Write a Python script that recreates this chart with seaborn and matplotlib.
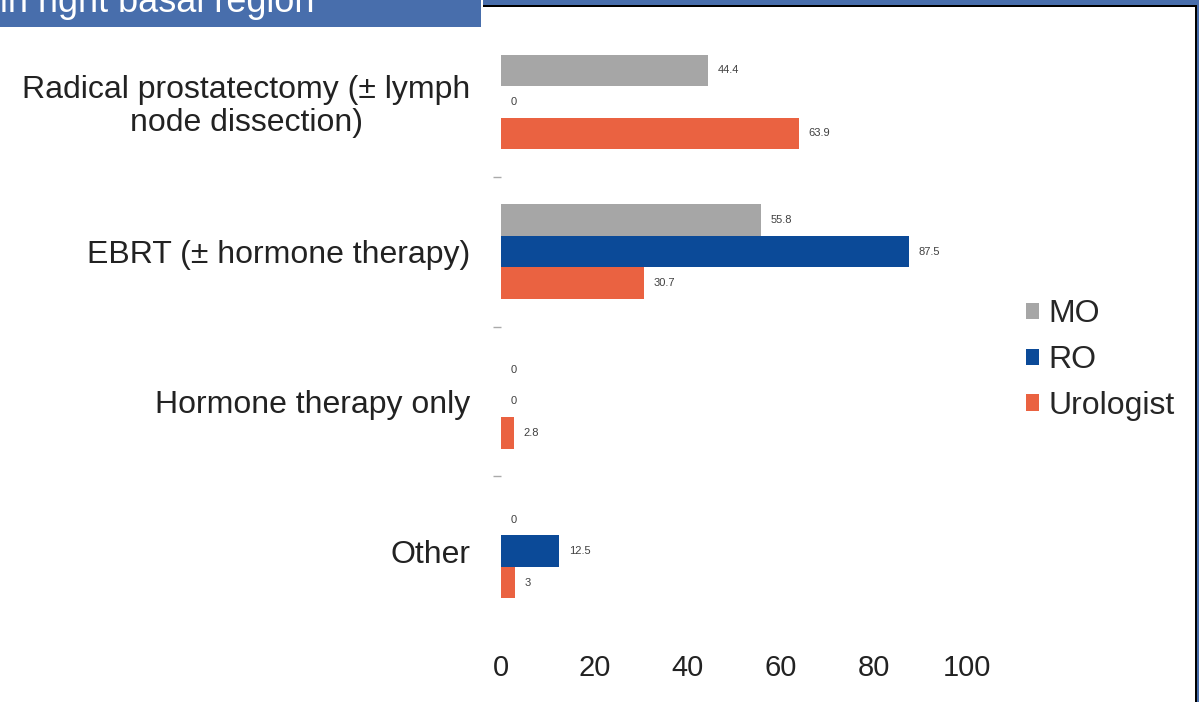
import matplotlib
matplotlib.use("Agg")
import matplotlib.pyplot as plt
import seaborn as sns
import pandas as pd
from matplotlib.patches import Rectangle

categories = ["Radical prostatectomy (\u00b1 lymph\nnode dissection)",
              "EBRT (\u00b1 hormone therapy)",
              "Hormone therapy only",
              "Other"]
groups = ["MO", "RO", "Urologist"]
mo_values = [44.4, 55.8, 0, 0]
ro_values = [0, 87.5, 0, 12.5]
uro_values = [63.9, 30.7, 2.8, 3]
x_ticks = [0, 20, 40, 60, 80, 100]
banner_text = "in right basal region"

colors = {"MO": "#a6a6a6", "RO": "#0b4a98", "Urologist": "#ea6241"}

rows = []
for g, vals in zip(groups, [mo_values, ro_values, uro_values]):
    for c, v in zip(categories, vals):
        rows.append({"Category": c, "Group": g, "Value": v})
df = pd.DataFrame(rows)

sns.set_style("white")
plt.rcParams["font.family"] = ["Liberation Sans", "DejaVu Sans"]

W, H = 1199, 702
fig = plt.figure(figsize=(W / 100, H / 100), dpi=100)
ax = fig.add_axes([501 / W, 1 - 626 / H, 466 / W, 599 / H])

sns.barplot(data=df, y="Category", x="Value", hue="Group", order=categories,
            hue_order=groups, palette=colors, width=0.63, orient="h",
            saturation=1, linewidth=0, ax=ax, legend=True)

for cont in ax.containers:
    ax.bar_label(cont, labels=[f"{r.get_width():g}" for r in cont],
                 padding=7, fontsize=8, color="#404040")

ax.set_xlim(0, 100)
ax.set_ylim(3.5, -0.5)
ax.set_xticks(x_ticks)
ax.set_xticklabels([str(t) for t in x_ticks])
ax.set_xlabel("")
ax.set_ylabel("")
for s in ax.spines.values():
    s.set_visible(False)
ax.tick_params(axis="x", length=0, pad=20, labelsize=21, labelcolor="#222222")
ax.tick_params(axis="y", which="major", left=False, length=0, pad=22, labelsize=23,
               labelcolor="#222222")
ax.set_yticks([0.5, 1.5, 2.5], minor=True)
ax.tick_params(axis="y", which="minor", left=True, length=6, color="#aaaaaa",
               width=1, pad=3)
for lab in ax.get_yticklabels():
    lab.set_multialignment("center")
    lab.set_linespacing(1.12)

leg = ax.get_legend()
handles, labels = ax.get_legend_handles_labels()
leg.remove()
fig.legend(handles, labels, loc="center left", bbox_to_anchor=(1026 / W, 1 - 360 / H),
           frameon=False, fontsize=23, handlelength=0.4, handleheight=0.4,
           handletextpad=0.3, labelspacing=0.5, borderaxespad=0, borderpad=0)

# frame and banner
blue = "#486eac"
fig.patches.append(Rectangle((0, 1 - 27 / H), 481 / W, 27 / H, transform=fig.transFigure,
                             facecolor=blue, edgecolor="none", zorder=5))
fig.patches.append(Rectangle((483 / W, 1 - 5 / H), 1 - 483 / W, 5 / H, transform=fig.transFigure,
                             facecolor=blue, edgecolor="none", zorder=5))
fig.patches.append(Rectangle((483 / W, 1 - 7 / H), 1197 / W - 483 / W, 2 / H, transform=fig.transFigure,
                             facecolor="black", edgecolor="none", zorder=5))
fig.patches.append(Rectangle((1195 / W, 0), 2 / W, 1 - 5 / H, transform=fig.transFigure,
                             facecolor="black", edgecolor="none", zorder=5))
fig.patches.append(Rectangle((1197 / W, 0), 2 / W, 1, transform=fig.transFigure,
                             facecolor=blue, edgecolor="none", zorder=5))
fig.text(0 / W, 1 - 12 / H, banner_text, color="white", fontsize=26,
         ha="left", va="baseline", zorder=6)

fig.savefig("out.png", dpi=100)
